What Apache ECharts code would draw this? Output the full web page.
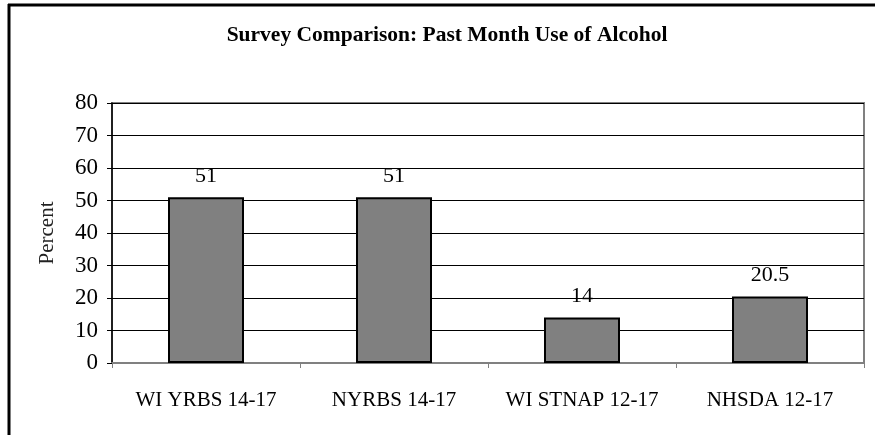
<!DOCTYPE html>
<html>
<head>
<meta charset="utf-8">
<script src="https://cdn.jsdelivr.net/npm/echarts@6/dist/echarts.min.js"></script>
<style>
  html, body { margin: 0; padding: 0; background: #fff; }
  #chart { width: 875px; height: 435px; }
</style>
</head>
<body>
<div id="chart"></div>
<script>
  var categories = ['WI YRBS 14-17', 'NYRBS 14-17', 'WI STNAP 12-17', 'NHSDA 12-17']
  var values = [51, 51, 14, 20.5]
  var titleText = 'Survey Comparison: Past Month Use of Alcohol'
  var yName = 'Percent'

  var serif = '"Liberation Serif", "Times New Roman", serif'
  var chart = echarts.init(document.getElementById('chart'))

  chart.setOption({
    animation: false,
    backgroundColor: '#fff',
    title: {
      text: titleText,
      left: 447,
      top: 24,
      padding: 0,
      textAlign: 'center',
      textStyle: {
        fontFamily: serif,
        fontWeight: 'bold',
        fontSize: 21.5,
        color: '#000'
      }
    },
    graphic: [
      {
        type: 'line',
        shape: { x1: 9, y1: 4, x2: 9, y2: 435 },
        style: { stroke: '#000', lineWidth: 3 }
      },
      {
        type: 'line',
        shape: { x1: 8, y1: 5, x2: 875, y2: 5 },
        style: { stroke: '#000', lineWidth: 3 }
      },
      {
        type: 'rect',
        shape: { x: 112, y: 103, width: 752, height: 260 },
        style: { fill: 'none', stroke: '#808080', lineWidth: 2 },
        z: 0
      }
    ],
    grid: {
      left: 112,
      right: 11,
      top: 103,
      bottom: 72
    },
    xAxis: {
      type: 'category',
      data: categories,
      axisLine: { lineStyle: { color: '#808080', width: 2 } },
      axisTick: { show: true, length: 5, lineStyle: { color: '#808080', width: 1 } },
      axisLabel: {
        interval: 0,
        hideOverlap: false,
        margin: 27,
        fontFamily: serif,
        fontSize: 21,
        color: '#000'
      }
    },
    yAxis: {
      type: 'value',
      min: 0,
      max: 80,
      interval: 10,
      name: yName,
      nameLocation: 'middle',
      nameGap: 54,
      nameTextStyle: {
        fontFamily: serif,
        fontSize: 21,
        color: '#222'
      },
      axisLine: { show: true, lineStyle: { color: '#000', width: 1.5 } },
      axisTick: { show: true, length: 5, lineStyle: { color: '#000' } },
      axisLabel: {
        margin: 14,
        fontFamily: serif,
        fontSize: 23,
        color: '#000'
      },
      splitLine: { lineStyle: { color: '#000', width: 1 } }
    },
    series: [{
      type: 'bar',
      data: values,
      barWidth: 76,
      z: 3,
      itemStyle: {
        color: '#808080',
        borderColor: '#000',
        borderWidth: 2
      },
      label: {
        show: true,
        position: 'top',
        distance: 10,
        fontFamily: serif,
        fontSize: 22,
        color: '#000'
      }
    }]
  })
</script>
</body>
</html>
